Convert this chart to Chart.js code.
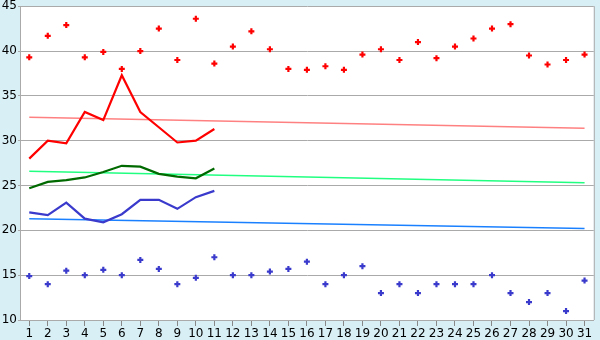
<!DOCTYPE html>
<html>
<head>
<meta charset="utf-8">
<script src="https://cdn.jsdelivr.net/npm/chart.js@4/dist/chart.umd.min.js"></script>
<style>
  html, body { margin: 0; padding: 0; background: #d9eff6; }
  #wrap { width: 600px; height: 340px; }
</style>
</head>
<body>
<div id="wrap"><canvas id="chart" width="600" height="340"></canvas></div>
<script>
const days = ['1','2','3','4','5','6','7','8','9','10','11','12','13','14','15','16','17','18','19','20','21','22','23','24','25','26','27','28','29','30','31']

// daily highs / lows (scatter)
const highs = [39.3, 41.7, 42.9, 39.3, 39.9, 38, 40, 42.5, 39, 43.6, 38.6, 40.5, 42.2, 40.2, 38, 37.9, 38.3, 37.9, 39.6, 40.2, 39, 41, 39.2, 40.5, 41.4, 42.5, 43, 39.5, 38.5, 39, 39.6]
const lows = [14.9, 14, 15.5, 15, 15.6, 15, 16.7, 15.7, 14, 14.7, 17, 15, 15, 15.4, 15.7, 16.5, 14, 15, 16, 13, 14, 13, 14, 14, 14, 15, 13, 12, 13, 11, 14.4]

// this month so far (days 1-11)
const maxLine = [28, 30, 29.7, 33.2, 32.3, 37.3, 33.2, 31.5, 29.8, 30, 31.3]
const meanLine = [24.7, 25.4, 25.6, 25.9, 26.5, 27.2, 27.1, 26.3, 26, 25.8, 26.9]
const minLine = [22, 21.7, 23.1, 21.3, 20.9, 21.8, 23.4, 23.4, 22.4, 23.7, 24.4]

// normals, start and end of month
const normalMax = [32.6, 31.4]
const normalMean = [26.6, 25.3]
const normalMin = [21.3, 20.2]

const yTicks = [10, 15, 20, 25, 30, 35, 40, 45]

function ends (pair) {
  return [{ x: days[0], y: pair[0] }, { x: days[days.length - 1], y: pair[1] }]
}

const bgPlugin = {
  id: 'bg',
  beforeDraw (chart) {
    const { ctx, chartArea: a } = chart
    ctx.save()
    ctx.fillStyle = '#d9eff6'
    ctx.fillRect(0, 0, chart.width, chart.height)
    ctx.fillStyle = '#ffffff'
    ctx.fillRect(a.left, a.top, a.right - a.left, a.bottom - a.top)
    ctx.restore()
  },
  afterDraw (chart) {
    const { ctx, chartArea: a } = chart
    ctx.save()
    ctx.strokeStyle = '#aaaaaa'
    ctx.lineWidth = 1
    ctx.beginPath()
    ctx.moveTo(a.right + 0.5, a.top)
    ctx.lineTo(a.right + 0.5, a.bottom)
    ctx.stroke()
    ctx.restore()
  }
}

function dots (data, color) {
  return {
    data: data,
    showLine: false,
    pointStyle: 'cross',
    pointRadius: 3,
    pointBorderWidth: 2.2,
    pointBorderColor: color,
    pointBackgroundColor: color,
    borderColor: color,
    order: 1
  }
}

function line (data, color, width, order) {
  return {
    data: data,
    borderColor: color,
    borderWidth: width,
    pointRadius: 0,
    tension: 0,
    fill: false,
    order: order
  }
}

new Chart(document.getElementById('chart'), {
  type: 'line',
  data: {
    labels: days,
    datasets: [
      line(ends(normalMax), '#ff8080', 1.5, 5),
      line(ends(normalMean), '#20ff80', 1.5, 5),
      line(ends(normalMin), '#1a80ff', 1.5, 5),
      line(maxLine, '#ff0000', 2.2, 2),
      line(meanLine, '#006a00', 2.2, 2),
      line(minLine, '#3a3acc', 2.2, 2),
      dots(highs, '#ff0000'),
      dots(lows, '#3a3acc')
    ]
  },
  options: {
    responsive: false,
    animation: false,
    layout: { padding: { top: 5, right: 5, left: 0, bottom: 0 } },
    plugins: { legend: { display: false }, tooltip: { enabled: false } },
    scales: {
      x: {
        offset: true,
        afterFit (scale) {
          scale.height = 20
          scale.paddingLeft = 0
          scale.paddingRight = 0
        },
        grid: { drawOnChartArea: false, drawTicks: true, tickLength: 6, color: '#888888' },
        border: { color: '#aaaaaa' },
        ticks: {
          autoSkip: false,
          maxRotation: 0,
          padding: 1,
          color: '#000000',
          font: { family: 'DejaVu Sans', size: 12 }
        }
      },
      y: {
        min: 10,
        max: 45,
        afterFit (scale) {
          scale.width = 20
          scale.paddingTop = 0
          scale.paddingBottom = 0
        },
        afterBuildTicks (scale) { scale.ticks = yTicks.map(v => ({ value: v })) },
        grid: { color: '#aaaaaa', drawTicks: true, tickLength: 2 },
        border: { color: '#aaaaaa' },
        ticks: {
          padding: 1,
          color: '#000000',
          font: { family: 'DejaVu Sans', size: 12 }
        }
      }
    }
  },
  plugins: [bgPlugin]
})
</script>
</body>
</html>
